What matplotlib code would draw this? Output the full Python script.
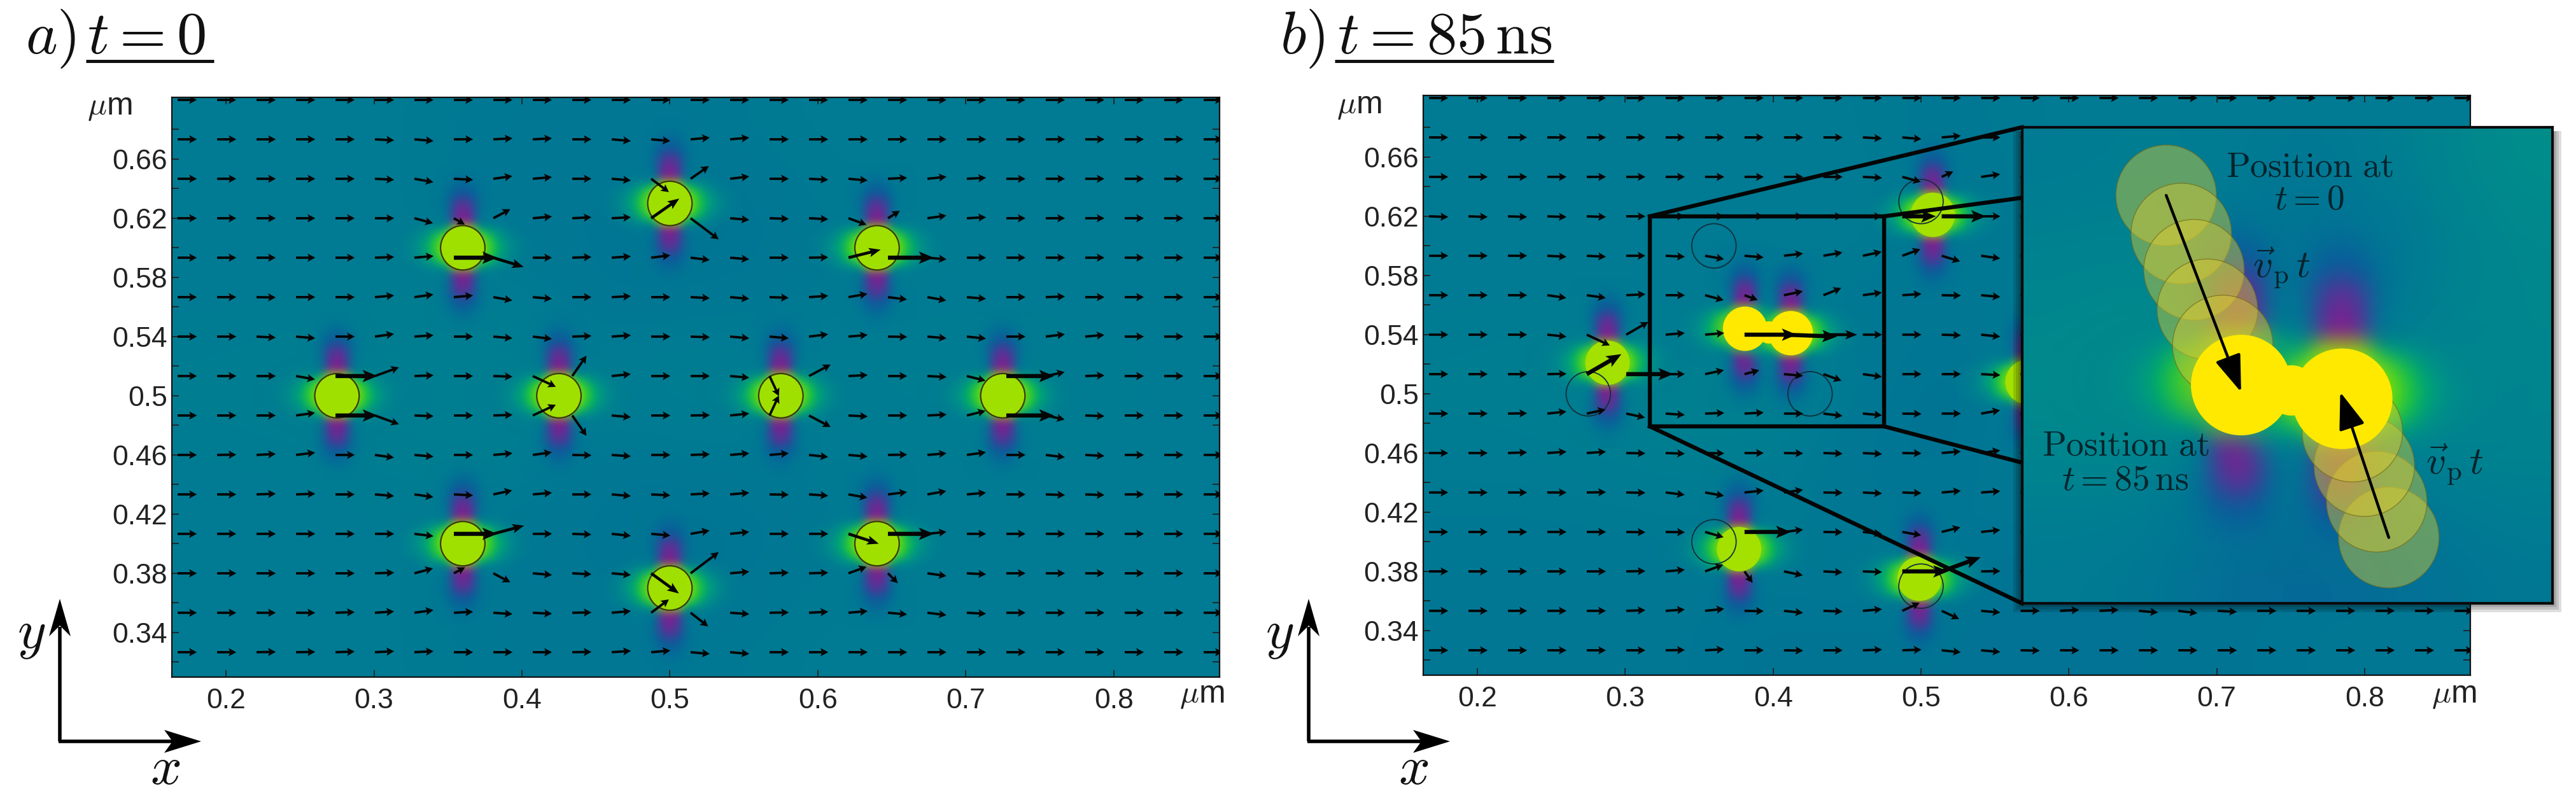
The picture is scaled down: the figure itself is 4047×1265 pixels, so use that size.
import numpy as np
import matplotlib
matplotlib.use("Agg")
import matplotlib.pyplot as plt
from matplotlib.colors import LinearSegmentedColormap
from matplotlib.patches import Circle, Polygon, Rectangle

W, H = 4047, 1265

XLIM = (0.1634, 0.8715)
YLIM = (0.3098, 0.7017)
X_TICKS = [0.2, 0.3, 0.4, 0.5, 0.6, 0.7, 0.8]
X_LABELS = ["0.2", "0.3", "0.4", "0.5", "0.6", "0.7", "0.8"]
Y_TICKS = [0.32, 0.34, 0.36, 0.38, 0.40, 0.42, 0.44, 0.46, 0.48, 0.50,
           0.52, 0.54, 0.56, 0.58, 0.60, 0.62, 0.64, 0.66, 0.68]
Y_LABELS = ["", "0.34", "", "0.38", "", "0.42", "", "0.46", "", "0.5",
            "", "0.54", "", "0.58", "", "0.62", "", "0.66", ""]

# particle positions (um)
PARTICLES_T0 = [(0.275, 0.5), (0.36, 0.6), (0.425, 0.5), (0.36, 0.4), (0.5, 0.63),
                (0.5, 0.37), (0.575, 0.5), (0.64, 0.6), (0.64, 0.4), (0.725, 0.5)]
PARTICLES_T85_GREEN = [(0.288, 0.521), (0.508, 0.621), (0.377, 0.395), (0.499, 0.375), (0.572, 0.508)]
PARTICLES_T85_YELLOW = [(0.381, 0.544), (0.412, 0.541)]
NECK = (0.3970, 0.5415)
ZOOM_BOX_X = (0.3166, 0.475)
ZOOM_BOX_Y = (0.478, 0.62)
TRAIL_LEFT = [(0.3596, 0.5997), (0.3641, 0.5883), (0.3679, 0.5775), (0.3719, 0.5657), (0.3765, 0.5549)]
TRAIL_RIGHT = [(0.4261, 0.4976), (0.4225, 0.5083), (0.4188, 0.5189), (0.4152, 0.5292)]
FINAL_LEFT = (0.382, 0.5431)
FINAL_RIGHT = (0.4122, 0.539)
RADIUS = 0.015

# background level, top row first
BG_A = [
    [0.40, 0.40, 0.40, 0.39, 0.39, 0.39, 0.40, 0.40, 0.40, 0.40, 0.40],
    [0.40, 0.40, 0.40, 0.38, 0.39, 0.37, 0.39, 0.40, 0.40, 0.40, 0.40],
    [0.40, 0.40, 0.41, 0.41, 0.38, 0.39, 0.39, 0.40, 0.40, 0.40, 0.40],
    [0.41, 0.42, 0.41, 0.42, 0.41, 0.42, 0.41, 0.41, 0.41, 0.41, 0.40],
    [0.40, 0.40, 0.41, 0.41, 0.38, 0.39, 0.39, 0.40, 0.40, 0.40, 0.40],
    [0.40, 0.40, 0.40, 0.38, 0.39, 0.37, 0.39, 0.40, 0.40, 0.40, 0.40],
    [0.40, 0.40, 0.40, 0.39, 0.39, 0.39, 0.40, 0.40, 0.40, 0.40, 0.40],
]
BG_B = [
    [0.40, 0.40, 0.40, 0.40, 0.40, 0.39, 0.40, 0.40, 0.40, 0.40, 0.40],
    [0.40, 0.40, 0.40, 0.40, 0.41, 0.38, 0.40, 0.40, 0.40, 0.40, 0.40],
    [0.40, 0.40, 0.40, 0.39, 0.39, 0.39, 0.40, 0.40, 0.40, 0.40, 0.40],
    [0.41, 0.42, 0.42, 0.43, 0.40, 0.37, 0.40, 0.40, 0.40, 0.40, 0.40],
    [0.40, 0.40, 0.41, 0.41, 0.38, 0.38, 0.40, 0.40, 0.40, 0.40, 0.40],
    [0.39, 0.39, 0.39, 0.39, 0.40, 0.39, 0.38, 0.38, 0.38, 0.38, 0.38],
    [0.39, 0.39, 0.39, 0.38, 0.38, 0.38, 0.37, 0.38, 0.38, 0.39, 0.39],
]
BG_INSET = [
    [0.40, 0.41, 0.40, 0.39, 0.42, 0.46],
    [0.42, 0.43, 0.38, 0.36, 0.40, 0.44],
    [0.44, 0.46, 0.42, 0.36, 0.42, 0.44],
    [0.45, 0.47, 0.46, 0.44, 0.46, 0.43],
    [0.42, 0.42, 0.36, 0.36, 0.40, 0.42],
    [0.40, 0.39, 0.35, 0.34, 0.37, 0.39],
]

# field around one particle: one quadrant, centre in the first cell
HALO = [
    [0.80, 0.80, 0.80, 0.70, 0.56, 0.49, 0.45, 0.43, 0.41, 0.40],
    [0.80, 0.80, 0.78, 0.66, 0.53, 0.47, 0.45, 0.43, 0.41, 0.40],
    [0.80, 0.80, 0.58, 0.51, 0.47, 0.45, 0.43, 0.41, 0.40, 0.40],
    [0.00, 0.12, 0.36, 0.42, 0.43, 0.41, 0.40, 0.40, 0.40, 0.40],
    [0.05, 0.16, 0.35, 0.39, 0.40, 0.40, 0.40, 0.40, 0.40, 0.40],
    [0.12, 0.21, 0.34, 0.38, 0.40, 0.40, 0.40, 0.40, 0.40, 0.40],
    [0.27, 0.30, 0.35, 0.38, 0.40, 0.40, 0.40, 0.40, 0.40, 0.40],
    [0.32, 0.33, 0.36, 0.39, 0.40, 0.40, 0.40, 0.40, 0.40, 0.40],
    [0.35, 0.36, 0.38, 0.39, 0.40, 0.40, 0.40, 0.40, 0.40, 0.40],
    [0.38, 0.38, 0.39, 0.40, 0.40, 0.40, 0.40, 0.40, 0.40, 0.40],
]
HALO_CELL = 0.006

# arrow grid
N_ROWS, N_COLS = 15, 27
GRID_X0, GRID_Y0, GRID_STEP = 0.1673, 0.70, 0.02667
ARROW_LEN = 0.013

# arrow angles in degrees per row and column, columns left out are 0
ANGLES_A = [
    [],
    [0, 0, 0, 0, 0, -3, -5, 0, 3, 3, 0, -5, -5, 5, 5],
    [0, 0, 0, 0, 0, -3, -10, -3, 8, 5, 0, -5, -37, 35, 7, 0, -3, -5, 3, 6, 3],
    [0, 0, 0, 0, 0, 0, -15, -30, 28, 5, 3, 3, 35, -37, -5, -2, -3, -20, 32, 8, 3],
    [0, 0, 0, 0, 0, 2, 5, 0, -17, 0, 2, 4, 7, -7, -5, 0, 1, 14, 0, -5],
    [0, 0, -1, 0, 0, 5, 8, 5, -10, -5, 0, 3, 0, -3, -5, -2, 4, 10, -7, -10, -5, 0, 2],
    [0, 0, -3, -5, 0, 8, 4, 0, -5, -7, 2, 4, 0, -2, -5, -5, 7, 5, -1, -5, -6, 0, 7, 5],
    [0, 0, 0, -10, 0, 20, 2, 0, -2, -25, 55, 6, 0, 0, -5, -65, 28, 3, 0, -3, -14, 0, 12, 2],
    [0, 0, 0, 8, 0, -20, -2, 0, 2, 25, -55, -5, 0, 1, 6, 65, -28, -3, 0, 3, 14, 0, -12, -2],
    [0, 1, 3, 7, 0, -8, -5, 0, 5, 8, -1, -4, 0, 2, 5, 5, -6, -5, 1, 5, 8, 0, -7, -3],
    [0, 0, 2, 2, 0, -5, -8, -3, 12, 5, 0, -5, -3, 3, 5, -1, -4, -10, 7, 10, 5, 0, -2, -2],
    [0, 0, 0, 0, 0, 0, -7, 0, 15, 0, -2, -6, -5, 10, 6, 0, 0, -18, 0, 6],
    [0, 0, 0, 0, 0, 2, 15, 28, -28, -5, -3, -5, -36, 37, 5, 2, 2, 20, -45, -8, -3],
    [0, 0, 0, 0, 2, 4, 8, 3, -4, -3, 1, 5, 37, -38, -4, 1, 3, 5, -5, -7, -3],
    [0, 0, 1, 1, 2, 3, 3, 0, 0, 0, 1, 4, 5, -5, -5],
]
ANGLES_B = [
    [],
    [0, 0, 0, 0, 0, 0, 0, 0, 0, 0, 0, -3, -5, 5],
    [0, 0, 0, 0, 0, 0, 0, 0, 0, 0, 0, -3, -15, 25, 8],
    [-2, -2, -2, -2, -2],
    [0, 0, 0, -3, -3, 0, -3, -10, -5, 7, 10, 12, 20, -17, -8],
    [0, 0, 0, -8, -8, 3, 0, -15, -20, 12, 22, 8, 4, -1, -5],
    [0, 0, 0, -6, -25, 30, 5, 5, 0, -2, 0, 0, 0, -2, -6],
    [0, 0, 0, 1, 30, 0, 0, 12, 15, -5, -20, -8, 0, 0, -3],
    [0, 0, 1, 6, 12, -12, -4, 2, 3, 0, -7, -5, -1, 0, 10],
    [0, 0, 2, 4, 4, -1, -2, -1, 0, -1, -2, -3, -1, 5, 8],
    [0, 0, 0, 0, 1, -1, -7, -10, 6, 8, -1, -3, -2, 5, 4],
    [0, 0, 0, 0, 0, -1, -1, -16, 0, 7, -1, -6, -10, 14, 6],
    [0, 0, 0, 0, 0, 1, 5, 20, -55, -12, -3, -2, 0, 20, 1],
    [0, 0, 0, 0, 0, 2, 4, 6, -1, -6, -2, 5, 25, -25, -5, 0, 3, 3, -5, -7, -3],
    [0, 0, 0, 0, 0, 0, 1, 3, 0, -1, 0, 2, 2, -6, -5, -1],
]

# arrows with another length: (row, column): length in um
LENGTHS_A = {(3, 7): 0.0086, (3, 18): 0.0095, (12, 7): 0.0086, (12, 18): 0.0095,
             (2, 12): 0.015, (2, 13): 0.015, (12, 12): 0.0232, (12, 13): 0.0237,
             (13, 12): 0.015, (13, 13): 0.015, (3, 12): 0.0232, (3, 13): 0.0237,
             (4, 7): 0.0293, (4, 8): 0.0215, (4, 17): 0.0224, (4, 18): 0.031,
             (7, 4): 0.0284, (7, 5): 0.0172, (7, 9): 0.0172, (7, 10): 0.0168, (7, 21): 0.0323,
             (8, 4): 0.0284, (8, 5): 0.0172, (8, 9): 0.0172, (8, 10): 0.0168, (8, 21): 0.0323,
             (7, 15): 0.015, (8, 15): 0.015, (7, 16): 0.0165, (8, 16): 0.0165,
             (11, 7): 0.0293, (11, 8): 0.0215, (11, 17): 0.0215, (11, 18): 0.031}
THICK_A = [(4, 7), (4, 18), (7, 4), (7, 21), (8, 4), (8, 21), (11, 7), (11, 18)]
MEDIUM_A = [(3, 12), (12, 12), (4, 8), (4, 17), (11, 8), (11, 17)]
LENGTHS_B = {(3, 12): 0.0228, (3, 13): 0.03, (6, 8): 0.0353, (6, 9): 0.036, (6, 10): 0.0228,
             (7, 4): 0.027, (7, 5): 0.0318, (11, 8): 0.0314, (12, 12): 0.031, (12, 13): 0.028,
             (2, 13): 0.0086, (5, 8): 0.0095, (7, 8): 0.0103, (12, 8): 0.0095,
             (6, 4): 0.0172, (6, 5): 0.0172}
THICK_B = [(3, 12), (3, 13), (6, 8), (6, 9), (7, 4), (7, 5), (11, 8), (12, 12), (12, 13)]
MEDIUM_B = [(6, 10)]

plt.rcParams["font.family"] = ["Liberation Sans", "DejaVu Sans"]
plt.rcParams["mathtext.fontset"] = "cm"

field_cmap = LinearSegmentedColormap.from_list("field", [
    (0.0, "#8a1a8a"), (0.15, "#55359a"), (0.3, "#0a5c9c"), (0.4, "#007b93"),
    (0.5, "#009a85"), (0.62, "#00c050"), (0.72, "#50d818"), (0.8, "#a0e000"),
    (1.0, "#ffe900"),
])


def px_axes(fig, left, right, top, bottom):
    return fig.add_axes([left / W, 1 - bottom / H, (right - left) / W, (bottom - top) / H])


def draw_background(ax, grid):
    ax.imshow(np.array(grid), origin="upper", extent=(*ax.get_xlim(), *ax.get_ylim()),
              cmap=field_cmap, vmin=0, vmax=1, aspect="auto", interpolation="bicubic", zorder=0)


def draw_halo(ax, center):
    quad = np.array(HALO)
    top = np.hstack([quad[:, :0:-1], quad])
    full = np.vstack([top[:0:-1], top])
    rgba = field_cmap(full)
    rgba[..., 3] = np.clip(np.abs(full - 0.4) * 11, 0, 1)
    r = HALO_CELL * 9.5
    ax.imshow(rgba, origin="lower", extent=(center[0] - r, center[0] + r, center[1] - r, center[1] + r),
              aspect="auto", interpolation="bicubic", zorder=1)


def draw_arrows(ax, angle_rows, lengths, thick, medium):
    rows, cols, angles, lens = [], [], [], []
    for r in range(N_ROWS):
        for c in range(N_COLS):
            rows.append(r)
            cols.append(c)
            angles.append(angle_rows[r][c] if c < len(angle_rows[r]) else 0)
            lens.append(lengths.get((r, c), ARROW_LEN))
    rows, cols, angles, lens = map(np.array, (rows, cols, angles, lens))
    x = GRID_X0 + cols * GRID_STEP
    y = GRID_Y0 - rows * GRID_STEP
    u = lens * np.cos(np.radians(angles))
    v = lens * np.sin(np.radians(angles))
    big = set(thick) | set(medium)
    groups = [
        (np.array([(r, c) not in big for r, c in zip(rows, cols)]), 3.8, 3.4, 3.2),
        (np.array([(r, c) in set(medium) for r, c in zip(rows, cols)]), 4.6, 3.2, 4),
        (np.array([(r, c) in set(thick) for r, c in zip(rows, cols)]), 6.5, 3.0, 3.6),
    ]
    for mask, width, head_w, head_l in groups:
        ax.quiver(x[mask], y[mask], u[mask], v[mask], angles="xy", scale_units="xy", scale=1,
                  units="dots", width=width, headwidth=head_w, headlength=head_l,
                  headaxislength=head_l * 0.85, pivot="tail", color="#050505", zorder=5)


def style_axes(ax):
    ax.set_xlim(XLIM)
    ax.set_ylim(YLIM)
    ax.set_xticks(X_TICKS, X_LABELS)
    ax.set_yticks(Y_TICKS, Y_LABELS)
    ax.tick_params(axis="x", direction="in", top=True, length=8, width=1.3, labelsize=32, pad=12,
                   colors="#222222")
    ax.tick_params(axis="y", direction="in", right=True, length=8, width=1.3, labelsize=32, pad=5,
                   colors="#222222")
    for spine in ax.spines.values():
        spine.set_linewidth(1.6)
        spine.set_color("#111111")


def axis_arrows(ov, x0):
    ov.plot([x0, x0], [985, 1165], color="black", lw=4, solid_capstyle="butt")
    ov.plot([x0 - 2, x0 + 180], [1165, 1165], color="black", lw=4, solid_capstyle="butt")
    ov.add_patch(Polygon([(x0, 941), (x0 + 17, 1000), (x0, 983), (x0 - 17, 1000)], color="black", lw=0))
    ov.add_patch(Polygon([(x0 + 222, 1165), (x0 + 164, 1147), (x0 + 177, 1165), (x0 + 164, 1183)],
                         color="black", lw=0))


fig = plt.figure(figsize=(W / 100, H / 100), dpi=100, facecolor="white")

# panel a
ax_a = px_axes(fig, 270, 1916, 153, 1064)
style_axes(ax_a)
draw_background(ax_a, BG_A)
for p in PARTICLES_T0:
    draw_halo(ax_a, p)
    ax_a.add_patch(Circle(p, RADIUS, fc="#a0e000", ec="#3a3a10", lw=1.6, zorder=3))
draw_arrows(ax_a, ANGLES_A, LENGTHS_A, THICK_A, MEDIUM_A)
style_axes(ax_a)

# panel b
ax_b = px_axes(fig, 2236, 3881, 150, 1061)
style_axes(ax_b)
draw_background(ax_b, BG_B)
for p in PARTICLES_T85_GREEN:
    draw_halo(ax_b, p)
    ax_b.add_patch(Circle(p, RADIUS, fc="#a4e000", ec="none", zorder=3))
for p in PARTICLES_T85_YELLOW:
    draw_halo(ax_b, p)
    ax_b.add_patch(Circle(p, RADIUS, fc="#ffe900", ec="none", zorder=3))
ax_b.add_patch(Circle(NECK, 0.0075, fc="#ffe900", ec="none", zorder=3))
for p in PARTICLES_T0[:6]:
    ax_b.add_patch(Circle(p, RADIUS, fill=False, ec="#10303c", lw=1.3, zorder=4))
draw_arrows(ax_b, ANGLES_B, LENGTHS_B, THICK_B, MEDIUM_B)
style_axes(ax_b)

# zoom box and the lines to the inset
ax_b.add_patch(Rectangle((ZOOM_BOX_X[0], ZOOM_BOX_Y[0]), ZOOM_BOX_X[1] - ZOOM_BOX_X[0],
                         ZOOM_BOX_Y[1] - ZOOM_BOX_Y[0], fill=False, ec="#050505", lw=4.6, zorder=6))
INSET_EDGE_X = 0.5683
LINE_END_Y = [0.6802, 0.6325, 0.4535, 0.3584]
LINE_START = [(ZOOM_BOX_X[0], ZOOM_BOX_Y[1]), (ZOOM_BOX_X[1], ZOOM_BOX_Y[1]),
              (ZOOM_BOX_X[1], ZOOM_BOX_Y[0]), (ZOOM_BOX_X[0], ZOOM_BOX_Y[0])]
for start, end_y in zip(LINE_START, LINE_END_Y):
    ax_b.plot([start[0], INSET_EDGE_X], [start[1], end_y], color="#050505", lw=4.6,
              solid_capstyle="projecting", zorder=6)

# overlay for titles, axis arrows and the inset shadow, in pixels
ov = fig.add_axes([0, 0, 1, 1], zorder=1)
ov.set_xlim(0, W)
ov.set_ylim(H, 0)
ov.axis("off")

ov.text(40, 84, r"$a)$", fontsize=68, va="baseline", color="#111111")
ov.text(137, 84, r"$t=0$", fontsize=68, va="baseline", color="#111111")
ov.plot([135, 336], [96, 96], color="#111111", lw=3.6, solid_capstyle="butt")
ov.text(2011, 84, r"$b)$", fontsize=68, va="baseline", color="#111111")
ov.text(2101, 84, r"$t=85\,\mathrm{ns}$", fontsize=68, va="baseline", color="#111111")
ov.plot([2097, 2441], [96, 96], color="#111111", lw=3.6, solid_capstyle="butt")

for px, py in [(137, 180), (1853, 1104), (2100, 178), (3820, 1104)]:
    ov.text(px, py, r"$\mu$m", fontsize=36, va="baseline", color="#222222")

axis_arrows(ov, 94)
axis_arrows(ov, 2056)
ov.text(27, 1018, r"$y$", fontsize=62, va="baseline", color="#111111")
ov.text(236, 1232, r"$x$", fontsize=62, va="baseline", color="#111111")
ov.text(1988, 1018, r"$y$", fontsize=62, va="baseline", color="#111111")
ov.text(2197, 1232, r"$x$", fontsize=62, va="baseline", color="#111111")

for pad in (14, 10, 6, 3):
    ov.add_patch(Rectangle((3177 - pad, 206), 833 + 2 * pad, 742 + pad,
                           fc="black", ec="none", alpha=0.13))

# inset
inset = px_axes(fig, 3177, 4010, 200, 948)
inset.set_zorder(2)
inset.set_xlim(ZOOM_BOX_X)
inset.set_ylim(ZOOM_BOX_Y)
draw_background(inset, BG_INSET)
for p in PARTICLES_T85_YELLOW:
    draw_halo(inset, p)
for p in TRAIL_LEFT + TRAIL_RIGHT:
    inset.add_patch(Circle(p, RADIUS, fc=(0.85, 0.80, 0.2, 0.45), ec=(0.45, 0.42, 0.1, 0.7), lw=1, zorder=3))
for p in (FINAL_LEFT, FINAL_RIGHT):
    inset.add_patch(Circle(p, RADIUS, fc="#ffe900", ec="none", zorder=4))
inset.add_patch(Circle(NECK, 0.0075, fc="#ffe900", ec="none", zorder=4))
inset.set_xlim(ZOOM_BOX_X)
inset.set_ylim(ZOOM_BOX_Y)
inset.set_xticks([])
inset.set_yticks([])
for spine in inset.spines.values():
    spine.set_linewidth(3)
    spine.set_color("#0a0a0a")

for start, end in [(TRAIL_LEFT[0], (0.3820, 0.5410)), (TRAIL_RIGHT[0], (0.4116, 0.5410))]:
    inset.annotate("", xy=end, xytext=start, zorder=6,
                   arrowprops=dict(arrowstyle="-|>,head_length=0.9,head_width=0.32", lw=3.2, color="black",
                                   mutation_scale=40, shrinkA=0, shrinkB=0))

inset_labels = [
    (3628, 277, r"$\mathrm{Position\ at}$", 40),
    (3628, 329, r"$t=0$", 40),
    (3339, 716, r"$\mathrm{Position\ at}$", 40),
    (3339, 770, r"$t=85\,\mathrm{ns}$", 40),
    (3584, 436, r"$\vec{v}_{\mathrm{p}}\,t$", 44),
    (3856, 745, r"$\vec{v}_{\mathrm{p}}\,t$", 44),
]
for px, py, label, size in inset_labels:
    inset.text(px / W, 1 - py / H, label, transform=fig.transFigure, fontsize=size, ha="center",
               va="baseline", color="#06242c", zorder=7)

fig.savefig("out.png", dpi=100, facecolor="white")
